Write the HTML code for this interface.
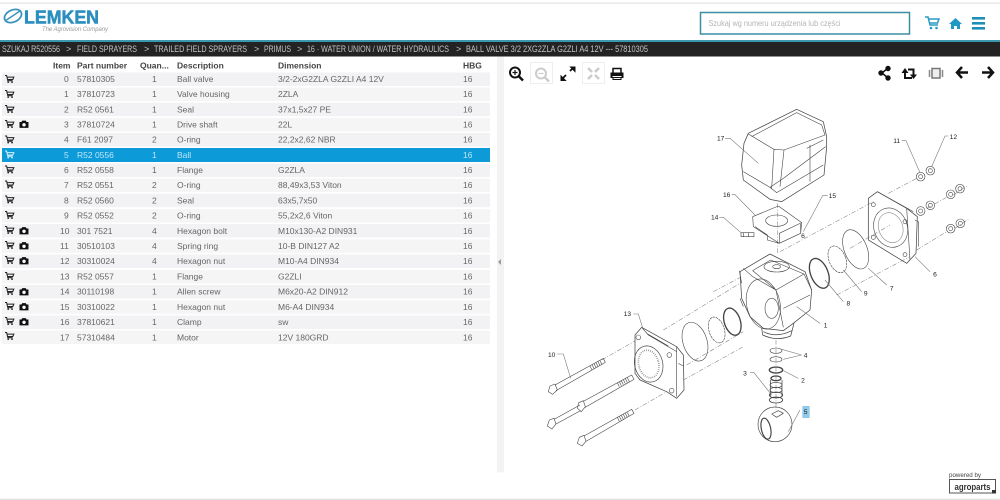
<!DOCTYPE html>
<html><head><meta charset="utf-8"><title>Lemken parts</title>
<style>
html,body{margin:0;padding:0;background:#fff;width:1000px;height:500px;overflow:hidden}
svg{display:block;filter:blur(.35px)}
text{font-family:"Liberation Sans",sans-serif}
.t text{font-size:8.5px;fill:#666}
.h text{font-size:8.5px;font-weight:bold;fill:#444}
.b text{font-size:9px;fill:#c4c4c4}
.d{fill:none;stroke:#444;stroke-width:2.2;stroke-linejoin:round}
.l{fill:none;stroke:#777;stroke-width:1.8}
.a{fill:none;stroke:#888;stroke-width:1.8;stroke-dasharray:14 5 3 5}
.n{font-size:20px;fill:#222;text-anchor:middle}
</style></head><body>
<svg width="1000" height="500" viewBox="0 0 1000 500" xmlns="http://www.w3.org/2000/svg">
<defs>
<g id="c" transform="scale(.8)"><path d="M0 0h2l1.500 6.500h6M2.500 2h8.500l-1.200 3H3.200" fill="none" stroke="#222" stroke-width="1.300"/><circle cx="4" cy="8.300" r="1.100" fill="#222"/><circle cx="8.800" cy="8.300" r="1.100" fill="#222"/></g>
<g id="p" transform="scale(.78)"><path d="M0 2h2.500l1-1.800h4.500l1 1.800h2.500v7.500h-11.500z" fill="#111"/><circle cx="5.800" cy="5.500" r="2.200" fill="#fff"/></g>
<g id="nut"><circle r="13" class="d" style="stroke-width:1.800"/><circle r="6" class="d" style="stroke-width:1.800"/></g>
</defs>
<rect width="1000" height="500" fill="#fff"/>
<rect y="2.500" width="1000" height="1.300" fill="#e6e6e6"/>

<!-- logo -->
<ellipse cx="13" cy="16" rx="9" ry="6" fill="none" stroke="#3b93bd" stroke-width="1.800" transform="rotate(-25 13 16)"/>
<path d="M5 21 L20 11" stroke="#3b93bd" stroke-width="1.500"/>
<text x="24" y="23.500" font-size="18" font-weight="bold" fill="#2b8ebf" stroke="#2b8ebf" stroke-width=".5" textLength="75" lengthAdjust="spacingAndGlyphs">LEMKEN</text>
<text x="42" y="31" font-size="6" font-style="italic" fill="#999" textLength="66" lengthAdjust="spacingAndGlyphs">The Agrovision Company</text>

<!-- search -->
<rect x="700.500" y="12.500" width="209" height="21.500" fill="#fff" stroke="#3a8ea6" stroke-width="1.500"/>
<text x="708.500" y="26" font-size="8.500" fill="#b5b5b5" textLength="132" lengthAdjust="spacingAndGlyphs">Szukaj wg numeru urządzenia lub części</text>
<g transform="translate(925,17) scale(1)"><path d="M0 0h3l2 8h8M4 2h10l-1.500 4H4.800" fill="none" stroke="#2a9bc4" stroke-width="1.500"/><circle cx="6" cy="11" r="1.300" fill="#2a9bc4"/><circle cx="11.500" cy="11" r="1.300" fill="#2a9bc4"/></g>
<path d="M949 24 L955.500 18 L962 24 L960 24 V29 H957 V26 H954 V29 H951 V24 Z" fill="#1f98c6"/>
<rect x="972" y="17" width="13" height="2.600" fill="#1f8fb8"/><rect x="972" y="22" width="13" height="2.600" fill="#1f8fb8"/><rect x="972" y="27" width="13" height="2.600" fill="#1f8fb8"/>

<!-- breadcrumb -->
<rect y="40" width="1000" height="2" fill="#3a97ad"/>
<rect y="42" width="1000" height="14.500" fill="#232323"/>
<g class="b">
<text x="2" y="52" textLength="58" lengthAdjust="spacingAndGlyphs">SZUKAJ R520556</text><text x="66" y="52">&gt;</text>
<text x="77" y="52" textLength="60" lengthAdjust="spacingAndGlyphs">FIELD SPRAYERS</text><text x="144" y="52">&gt;</text>
<text x="154" y="52" textLength="93" lengthAdjust="spacingAndGlyphs">TRAILED FIELD SPRAYERS</text><text x="254" y="52">&gt;</text>
<text x="264" y="52" textLength="27" lengthAdjust="spacingAndGlyphs">PRIMUS</text><text x="297" y="52">&gt;</text>
<text x="307" y="52" textLength="142" lengthAdjust="spacingAndGlyphs">16 · WATER UNION / WATER HYDRAULICS</text><text x="456" y="52">&gt;</text>
<text x="466" y="52" textLength="182" lengthAdjust="spacingAndGlyphs">BALL VALVE 3/2 2XG2ZLA G2ZLI A4 12V --- 57810305</text>
</g>

<!-- table -->
<g class="h">
<text x="53" y="68.500">Item</text><text x="77" y="68.500">Part number</text><text x="140" y="68.500">Quan...</text><text x="177" y="68.500">Description</text><text x="278" y="68.500">Dimension</text><text x="463" y="68.500">HBG</text>
</g>
<g fill="#f2f2f4">
<rect x="2" y="72.500" width="488" height="13.500"/><rect x="2" y="102.700" width="488" height="13.500"/><rect x="2" y="133" width="488" height="13.500"/>
<rect x="2" y="163.500" width="488" height="13.500"/><rect x="2" y="193.700" width="488" height="13.500"/><rect x="2" y="224" width="488" height="13.500"/>
<rect x="2" y="254.500" width="488" height="13.500"/><rect x="2" y="285" width="488" height="13.500"/><rect x="2" y="315.500" width="488" height="13.500"/>
</g>
<g fill="#f5f5f6">
<rect x="2" y="87.500" width="488" height="13.500"/><rect x="2" y="118" width="488" height="13.500"/><rect x="2" y="178.500" width="488" height="13.500"/>
<rect x="2" y="209" width="488" height="13.500"/><rect x="2" y="239.300" width="488" height="13.500"/><rect x="2" y="270" width="488" height="13.500"/><rect x="2" y="300.300" width="488" height="13.500"/><rect x="2" y="330.500" width="488" height="13.500"/>
</g>
<rect x="2" y="148" width="488" height="14" fill="#0c9ad8"/>

<g class="t">
<g transform="translate(0,82)"><text x="64">0</text><text x="77">57810305</text><text x="152">1</text><text x="177">Ball valve</text><text x="278">3/2-2xG2ZLA G2ZLI A4 12V</text><text x="463">16</text></g>
<g transform="translate(0,97.200)"><text x="64">1</text><text x="77">37810723</text><text x="152">1</text><text x="177">Valve housing</text><text x="278">2ZLA</text><text x="463">16</text></g>
<g transform="translate(0,112.400)"><text x="64">2</text><text x="77">R52 0561</text><text x="152">1</text><text x="177">Seal</text><text x="278">37x1,5x27 PE</text><text x="463">16</text></g>
<g transform="translate(0,127.500)"><text x="64">3</text><text x="77">37810724</text><text x="152">1</text><text x="177">Drive shaft</text><text x="278">22L</text><text x="463">16</text></g>
<g transform="translate(0,142.700)"><text x="64">4</text><text x="77">F61 2097</text><text x="152">2</text><text x="177">O-ring</text><text x="278">22,2x2,62 NBR</text><text x="463">16</text></g>
<g transform="translate(0,157.900)"><text x="64" style="fill:#bfe6f7">5</text><text x="77" style="fill:#bfe6f7">R52 0556</text><text x="152" style="fill:#bfe6f7">1</text><text x="177" style="fill:#bfe6f7">Ball</text><text x="463" style="fill:#bfe6f7">16</text></g>
<g transform="translate(0,173)"><text x="64">6</text><text x="77">R52 0558</text><text x="152">1</text><text x="177">Flange</text><text x="278">G2ZLA</text><text x="463">16</text></g>
<g transform="translate(0,188.200)"><text x="64">7</text><text x="77">R52 0551</text><text x="152">2</text><text x="177">O-ring</text><text x="278">88,49x3,53 Viton</text><text x="463">16</text></g>
<g transform="translate(0,203.400)"><text x="64">8</text><text x="77">R52 0560</text><text x="152">2</text><text x="177">Seal</text><text x="278">63x5,7x50</text><text x="463">16</text></g>
<g transform="translate(0,218.600)"><text x="64">9</text><text x="77">R52 0552</text><text x="152">2</text><text x="177">O-ring</text><text x="278">55,2x2,6 Viton</text><text x="463">16</text></g>
<g transform="translate(0,233.800)"><text x="60">10</text><text x="77">301 7521</text><text x="152">4</text><text x="177">Hexagon bolt</text><text x="278">M10x130-A2 DIN931</text><text x="463">16</text></g>
<g transform="translate(0,249)"><text x="60">11</text><text x="77">30510103</text><text x="152">4</text><text x="177">Spring ring</text><text x="278">10-B DIN127 A2</text><text x="463">16</text></g>
<g transform="translate(0,264.200)"><text x="60">12</text><text x="77">30310024</text><text x="152">4</text><text x="177">Hexagon nut</text><text x="278">M10-A4 DIN934</text><text x="463">16</text></g>
<g transform="translate(0,279.500)"><text x="60">13</text><text x="77">R52 0557</text><text x="152">1</text><text x="177">Flange</text><text x="278">G2ZLI</text><text x="463">16</text></g>
<g transform="translate(0,294.700)"><text x="60">14</text><text x="77">30110198</text><text x="152">1</text><text x="177">Allen screw</text><text x="278">M6x20-A2 DIN912</text><text x="463">16</text></g>
<g transform="translate(0,310)"><text x="60">15</text><text x="77">30310022</text><text x="152">1</text><text x="177">Hexagon nut</text><text x="278">M6-A4 DIN934</text><text x="463">16</text></g>
<g transform="translate(0,325.200)"><text x="60">16</text><text x="77">37810621</text><text x="152">1</text><text x="177">Clamp</text><text x="278">sw</text><text x="463">16</text></g>
<g transform="translate(0,340.300)"><text x="60">17</text><text x="77">57310484</text><text x="152">1</text><text x="177">Motor</text><text x="278">12V 180GRD</text><text x="463">16</text></g>
</g>

<g transform="translate(5,75.500)"><use href="#c"/></g><g transform="translate(5,90.500)"><use href="#c"/></g><g transform="translate(5,105.500)"><use href="#c"/></g><g transform="translate(5,120.500)"><use href="#c"/></g><g transform="translate(5,136)"><use href="#c"/></g>
<g transform="translate(5,151) scale(.8)"><path d="M0 0h2l1.500 6.500h6M2.500 2h8.500l-1.200 3H3.200" fill="none" stroke="#d6f0fb" stroke-width="1.300"/><circle cx="4" cy="8.300" r="1.100" fill="#d6f0fb"/><circle cx="8.800" cy="8.300" r="1.100" fill="#d6f0fb"/></g>
<g transform="translate(5,166)"><use href="#c"/></g><g transform="translate(5,181)"><use href="#c"/></g><g transform="translate(5,196)"><use href="#c"/></g><g transform="translate(5,211.500)"><use href="#c"/></g><g transform="translate(5,226.500)"><use href="#c"/></g><g transform="translate(5,241.500)"><use href="#c"/></g><g transform="translate(5,256.500)"><use href="#c"/></g><g transform="translate(5,272.500)"><use href="#c"/></g><g transform="translate(5,287.500)"><use href="#c"/></g><g transform="translate(5,302.500)"><use href="#c"/></g><g transform="translate(5,317.500)"><use href="#c"/></g><g transform="translate(5,332.500)"><use href="#c"/></g>
<g transform="translate(19.500,120.500)"><use href="#p"/></g><g transform="translate(19.500,227)"><use href="#p"/></g><g transform="translate(19.500,242)"><use href="#p"/></g><g transform="translate(19.500,257)"><use href="#p"/></g><g transform="translate(19.500,288)"><use href="#p"/></g><g transform="translate(19.500,303)"><use href="#p"/></g><g transform="translate(19.500,318)"><use href="#p"/></g>

<!-- splitter -->
<rect x="497" y="56.500" width="7" height="416" fill="#f3f3f3"/>
<path d="M501 259 l-3 3 3 3z" fill="#999"/>

<!-- toolbar left -->
<circle cx="515" cy="72.500" r="5" fill="none" stroke="#111" stroke-width="2"/><path d="M519 76.500l4 4" stroke="#111" stroke-width="2.500"/><path d="M512.500 72.500h5M515 70v5" stroke="#111" stroke-width="1.200"/>
<rect x="530.500" y="62.500" width="22" height="21" fill="#fff" stroke="#eee"/>
<circle cx="541" cy="73.500" r="5" fill="none" stroke="#ccc" stroke-width="2"/><path d="M545 77.500l4 4" stroke="#ccc" stroke-width="2.500"/><path d="M538.500 73.500h5" stroke="#ccc" stroke-width="1.200"/>
<path d="M562 79l4-4M570 71l4-4" stroke="#111" stroke-width="1.800"/><path d="M561 76v4.500h4.500zM575 71.500V67h-4.500z" fill="#111" stroke="#111"/>
<rect x="582.500" y="62.500" width="22" height="21" fill="#fff" stroke="#eee"/>
<path d="M588 68l4 4M599 68l-4 4M588 79l4-4M599 79l-4-4" stroke="#ccc" stroke-width="2.500"/>
<path d="M613 73v-4.500h8v4.500" fill="none" stroke="#111" stroke-width="1.500"/><path d="M610.500 72.500h13v5.500h-2v-2h-9v2h-2z" fill="#111"/><path d="M613 77.500h8v2h-8z" fill="none" stroke="#111"/>

<!-- toolbar right -->
<path d="M888 68l-6 5 6 5" fill="none" stroke="#111" stroke-width="1.500"/><circle cx="888" cy="68.500" r="2.700" fill="#111"/><circle cx="881" cy="73" r="2.700" fill="#111"/><circle cx="888" cy="78" r="2.700" fill="#111"/>
<path d="M905 72v6h7M908 69.500h5.500v6" fill="none" stroke="#111" stroke-width="2"/><path d="M901.500 73l3.500-5 3.500 5zM910 74.500l3.500 4.500 3.500-4.500z" fill="#111"/>
<rect x="932" y="68.500" width="8" height="9.500" fill="#eee" stroke="#777" stroke-width="1.500"/><path d="M929.500 70v7M942.500 70v7" stroke="#888" stroke-width="1.500"/>
<path d="M968 72.500h-10M962 67l-5 5.500 5 5.500" fill="none" stroke="#111" stroke-width="2.500"/>
<path d="M982 72.500h10M988 67l5 5.500-5 5.500" fill="none" stroke="#111" stroke-width="2.500"/>

<!-- drawing: upper -->
<g transform="translate(680,100) scale(.33333)">
<path class="a" d="M100 575L185 530M300 455L580 305M625 280L710 235M470 585L690 470M710 450L800 395M510 445L630 375M740 325L800 292M292 310V460M820 285L865 255M825 385L865 358"/>
<path class="d" d="M205 100L350 28L430 65L440 110L440 140L432 225L305 305L270 298L190 240L185 195L192 130Z"/>
<path class="d" style="stroke-width:1.800" d="M215 110L350 38L425 75L435 105L312 150L282 148L275 265M282 148L205 102M312 150L300 260M437 140L310 235L270 262L190 215M390 135L390 245M270 262L290 278L430 195M430 120L380 145"/>
<path class="d" style="stroke-width:1.800" d="M218 350L295 318L365 368L362 400L298 430L220 380ZM225 380L262 405L262 420L298 430M362 400V372M298 430V400L365 368"/>
<ellipse cx="290" cy="362" rx="33" ry="17" class="d" style="stroke-width:1.800"/>
<path class="d" style="stroke-width:1.800" d="M183 398H222V410H183ZM190 398V410M205 398V410"/>
<use href="#nut" x="722" y="230"/><use href="#nut" x="751" y="212"/><use href="#nut" x="722" y="333"/><use href="#nut" x="751" y="316"/><use href="#nut" x="812" y="283"/><use href="#nut" x="840" y="266"/><use href="#nut" x="812" y="386"/><use href="#nut" x="841" y="370"/>
<path class="d" d="M565 295L592 275L680 325L712 350L708 460L680 490L565 420Z"/>
<path class="d" style="stroke-width:1.800" d="M592 275L700 335M680 325L690 480M705 360L715 365L715 440"/>
<ellipse cx="632" cy="383" rx="50" ry="60" class="d" transform="rotate(-20 632 383)" style="stroke-width:1.800"/>
<ellipse cx="632" cy="383" rx="36" ry="46" class="d" transform="rotate(-20 632 383)" style="stroke:#888;stroke-width:1.800"/>
<circle cx="580" cy="314" r="6" class="d" style="stroke-width:1.800"/><circle cx="580" cy="412" r="6" class="d" style="stroke-width:1.800"/><circle cx="675" cy="464" r="6" class="d" style="stroke-width:1.800"/><circle cx="675" cy="365" r="6" class="d" style="stroke-width:1.800"/>
<ellipse cx="527" cy="448" rx="34" ry="62" class="d" transform="rotate(-22 527 448)" style="stroke-width:1.800"/>
<ellipse cx="472" cy="478" rx="25" ry="42" class="d" transform="rotate(-22 472 478)" style="stroke-width:1.800;stroke-dasharray:8 2"/>
<ellipse cx="418" cy="520" rx="26" ry="47" class="d" transform="rotate(-22 418 520)" style="stroke-width:4"/>
<path class="l" d="M135 115H150L235 190M155 284H165L225 345M443 287H428L370 395M118 352H130L185 400M665 122H678L720 218M805 108H795L755 200M750 515L705 470M545 575L490 510M620 555L565 505"/>
<text class="n" x="122" y="122">17</text><text class="n" x="140" y="291">16</text><text class="n" x="457" y="294">15</text><text class="n" x="104" y="359">14</text><text class="n" x="650" y="129">11</text><text class="n" x="820" y="117">12</text><text class="n" x="765" y="529">6</text><text class="n" x="557" y="586">9</text><text class="n" x="635" y="571">7</text>
<text class="n" x="369" y="414">6</text>
</g>

<!-- drawing: lower -->
<g transform="translate(530,240) scale(.33333)">
<path class="a" d="M400 270L630 130M215 360L320 300M315 510L410 455M460 420L640 320M470 375L640 275M738 300V510"/>
<path class="d" d="M630 95L720 42L825 95L845 150L840 210L790 250L760 272L700 265L660 230L635 175Z" fill="#fff" style="fill:#fff"/>
<ellipse cx="700" cy="192" rx="50" ry="76" class="d" transform="rotate(-12 700 192)" style="stroke-width:1.800"/>
<path class="d" style="stroke-width:1.800" d="M668 92L722 60L822 102L738 150ZM738 150L760 262M822 102L845 150M760 205L840 165M640 85L668 110L738 150M628 92L635 130M630 175L640 200"/>
<ellipse cx="740" cy="80" rx="38" ry="16" class="d" style="stroke-width:1.800"/>
<ellipse cx="740" cy="80" rx="12" ry="6" class="d" style="stroke-width:1.800"/>
<ellipse cx="725" cy="205" rx="20" ry="30" class="d" style="stroke-width:1.800"/>
<path class="d" d="M695 265L698 285Q740 305 782 288L792 250M700 275Q740 295 785 272"/>
<ellipse cx="863" cy="100" rx="24" ry="47" class="d" transform="rotate(-22 863 100)" style="stroke-width:4;display:none"/>
<path class="d" d="M315 285L335 262L440 320L460 345L462 450L440 475L410 455L330 420L315 400Z" style="fill:#fff"/>
<path class="d" style="stroke-width:1.800" d="M335 262L355 285L440 335M440 320V470M350 280L415 318M445 370L460 378"/>
<ellipse cx="356" cy="372" rx="42" ry="55" class="d" transform="rotate(-15 356 372)" style="stroke-width:2"/>
<ellipse cx="356" cy="372" rx="30" ry="42" class="d" transform="rotate(-15 356 372)" style="stroke:#777;stroke-width:5;stroke-dasharray:2 4"/>
<circle cx="325" cy="292" r="7" class="d" style="stroke-width:1.800"/><circle cx="418" cy="345" r="7" class="d" style="stroke-width:1.800"/><circle cx="425" cy="452" r="7" class="d" style="stroke-width:1.800"/>
<ellipse cx="495" cy="305" rx="36" ry="60" class="d" transform="rotate(-18 495 305)" style="stroke-width:1.800"/>
<ellipse cx="560" cy="270" rx="23" ry="40" class="d" transform="rotate(-18 560 270)" style="stroke-width:1.800;stroke-dasharray:8 2"/>
<ellipse cx="607" cy="245" rx="24" ry="42" class="d" transform="rotate(-18 607 245)" style="stroke-width:4"/>
<!-- bolts -->
<path class="d" style="stroke-width:1.800" d="M60 438L75 432L82 450L68 463L55 455ZM75 435L220 355L226 367L78 452M180 378L186 390M186 374L192 386M192 371L198 383M198 368L204 380M204 365L210 377M210 362L216 374"/>
<path class="d" style="stroke-width:1.800" d="M146 488L160 482L166 500L154 515L142 505ZM160 484L305 405L312 418L164 503M262 428L268 440M268 425L274 437M274 422L280 434M280 419L286 431M286 416L292 428M292 413L298 425"/>
<path class="d" style="stroke-width:1.800" d="M58 540L72 535L78 552L66 567L52 558ZM72 538L150 495M78 552L152 512"/>
<path class="d" style="stroke-width:1.800" d="M148 592L162 586L168 604L156 618L142 610ZM162 588L305 508L312 520L168 604M262 532L268 544M268 529L274 541M274 526L280 538M280 523L286 535M286 520L292 532M292 517L298 529"/>
<!-- small parts -->
<ellipse cx="738" cy="332" rx="18" ry="8" class="d" style="stroke-width:1.800"/>
<ellipse cx="738" cy="358" rx="18" ry="8" class="d" style="stroke-width:1.800"/>
<ellipse cx="738" cy="390" rx="20" ry="9" class="d" style="stroke-width:4"/>
<ellipse cx="738" cy="415" rx="15" ry="7" class="d" style="stroke-width:4"/>
<path class="d" d="M721 420V470M756 420V470"/>
<ellipse cx="738" cy="435" rx="18" ry="8" class="d" style="stroke-width:2"/><ellipse cx="738" cy="450" rx="18" ry="8" class="d" style="stroke-width:2"/><ellipse cx="738" cy="465" rx="20" ry="9" class="d" style="stroke-width:2.500"/><ellipse cx="738" cy="480" rx="20" ry="9" class="d" style="stroke-width:2.500"/>
<!-- ball -->
<ellipse cx="735" cy="553" rx="51" ry="52" class="d" style="stroke-width:2"/>
<ellipse cx="708" cy="566" rx="14" ry="32" class="d" transform="rotate(-12 708 566)" style="stroke-width:3.500"/>
<path class="d" style="stroke-width:2" d="M725 522L745 512L760 520L740 532Z"/>
<rect x="817" y="498" width="22" height="36" fill="#8fcbe9"/>
<path class="l" d="M310 222H325L340 270M80 342H100L122 415M870 250L800 200M815 345L755 328M815 345L760 358M805 415L760 392M660 398H672L725 465M810 510L775 575M940 185L885 120"/>
<text class="n" x="292" y="228">13</text><text class="n" x="65" y="351">10</text><text class="n" x="887" y="263">1</text><text class="n" x="827" y="352">4</text><text class="n" x="819" y="428">2</text><text class="n" x="645" y="406">3</text><text class="n" x="827" y="522">5</text><text class="n" x="955" y="197">8</text>
</g>

<!-- footer -->
<text x="949" y="477" font-size="6" fill="#444" textLength="32" lengthAdjust="spacingAndGlyphs">powered by</text>
<rect x="949.500" y="479.500" width="46" height="13.500" fill="#fff" stroke="#555"/>
<rect x="992" y="490" width="4" height="3.500" fill="#333"/>
<text x="954.500" y="490" font-size="9.500" font-weight="bold" fill="#333" textLength="36" lengthAdjust="spacingAndGlyphs">agroparts</text>
<rect y="498.700" width="1000" height="1.300" fill="#e2e2e2"/>
</svg>
</body></html>
